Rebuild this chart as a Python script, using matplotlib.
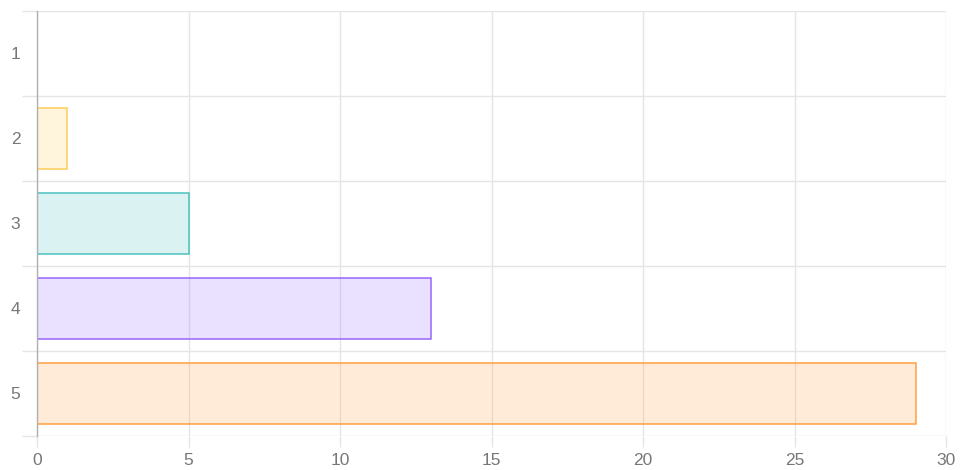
import matplotlib
matplotlib.use("Agg")
import matplotlib.pyplot as plt
from matplotlib.ticker import FixedLocator

# data
labels = ["1", "2", "3", "4", "5"]
values = [0, 1, 5, 13, 29]
colors = [(255, 99, 132), (255, 205, 86), (75, 192, 192), (153, 102, 255), (255, 159, 64)]

plt.rcParams['font.family'] = ['Liberation Sans', 'DejaVu Sans']

fig = plt.figure(figsize=(9.64, 4.70), dpi=100)
ax = fig.add_axes([37/964, 1 - 436/470, (946 - 37)/964, (436 - 11)/470])

pos = list(range(1, len(labels) + 1))
for p, v, c in zip(pos, values, colors):
    rgb = tuple(x / 255 for x in c)
    ax.barh(p, v, height=0.72, color=rgb + (0.2,), edgecolor=rgb, linewidth=1.1, zorder=3)

ax.set_xlim(0, 30)
ax.set_ylim(len(labels) + 0.5, 0.5)
ax.set_xticks(range(0, 31, 5))
ax.set_yticks(pos)
ax.set_yticklabels(labels)
ax.yaxis.set_minor_locator(FixedLocator([p - 0.5 for p in pos] + [len(labels) + 0.5]))

grid_c = "#e5e5e5"
ax.grid(axis="x", which="major", color=grid_c, linewidth=1, zorder=0)
ax.grid(axis="y", which="minor", color=grid_c, linewidth=1, zorder=0)

ax.tick_params(axis="y", which="major", length=0, pad=12, labelsize=12.5, labelcolor="#777777")
ax.tick_params(axis="y", which="minor", length=11, color=grid_c, width=1)
ax.tick_params(axis="x", which="major", length=8, color=grid_c, width=1, pad=4,
               labelsize=12.5, labelcolor="#777777")

for s in ["top", "right", "bottom"]:
    ax.spines[s].set_visible(False)
ax.spines["left"].set_color("#b0b0b0")
ax.spines["left"].set_linewidth(1)
ax.spines["left"].set_zorder(4)

fig.savefig("out.png", dpi=100)
